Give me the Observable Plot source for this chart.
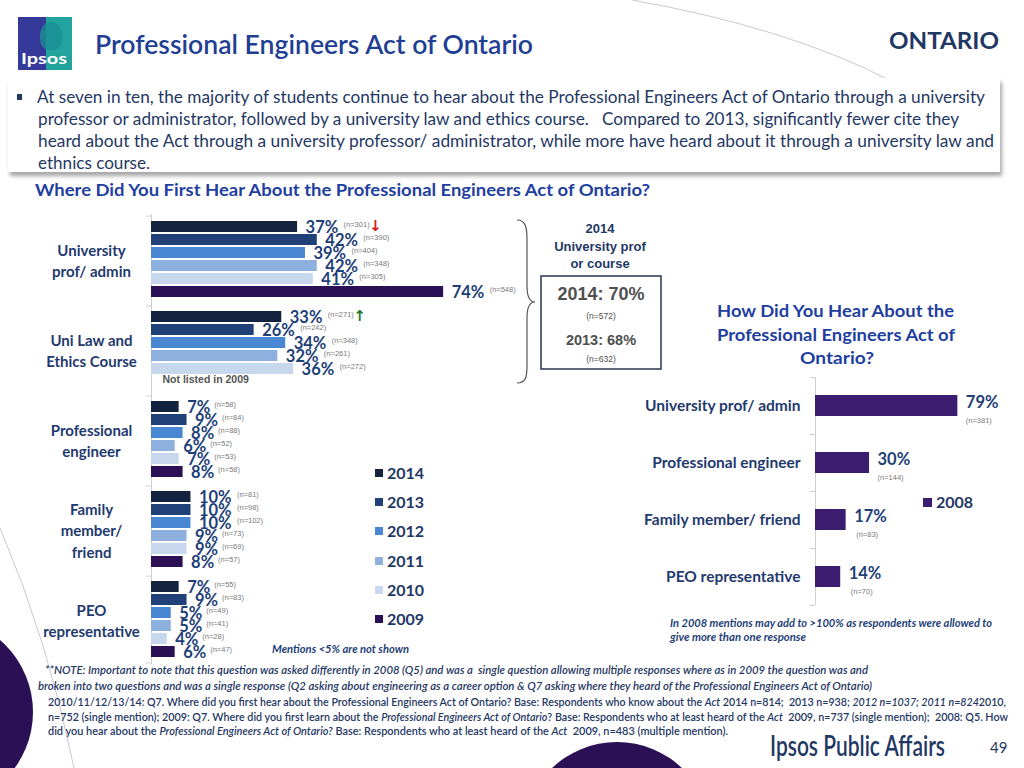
<!DOCTYPE html>
<html><head><meta charset="utf-8">
<script src="https://cdn.jsdelivr.net/npm/d3@7"></script>
<script src="https://cdn.jsdelivr.net/npm/@observablehq/plot@0.6"></script>
<style>
body{margin:0;background:#fff;}
#slide{position:relative;width:1024px;height:768px;overflow:hidden;background:#fff;font-family:Lato,"Open Sans",sans-serif;}
.t{position:absolute;white-space:nowrap;transform-origin:0 50%;}
.abs{position:absolute;}
</style></head><body><div id="slide"></div>
<script>
// ---------- DATA ----------
const groups = ["University prof/ admin", "Uni Law and Ethics Course", "Professional engineer", "Family member/ friend", "PEO representative"];
const groupLabels = ["University\nprof/ admin", "Uni Law and\nEthics Course", "Professional\nengineer", "Family\nmember/\nfriend", "PEO\nrepresentative"];
const years = ["2014", "2013", "2012", "2011", "2010", "2009"];
const yearColors = ["#13233f", "#1f4178", "#4a87d3", "#8eb0df", "#c7d7ee", "#2b1055"];
const pct2014 = [37, 33, 7, 10, 7];
const pct2013 = [42, 26, 9, 10, 9];
const pct2012 = [39, 34, 8, 10, 5];
const pct2011 = [42, 32, 6, 9, 5];
const pct2010 = [41, 36, 7, 9, 4];
const pct2009 = [74, null, 8, 8, 6];
const n2014 = [301, 271, 58, 81, 55];
const n2013 = [390, 242, 84, 98, 83];
const n2012 = [404, 348, 88, 102, 49];
const n2011 = [348, 261, 52, 73, 41];
const n2010 = [305, 272, 53, 69, 28];
const n2009 = [548, null, 58, 57, 47];
const change2014 = ["down", "up", "", "", ""];

const sources2008 = ["University prof/ admin", "Professional engineer", "Family member/ friend", "PEO representative"];
const pct2008 = [79, 30, 17, 14];
const n2008 = [381, 144, 83, 70];
const color2008 = "#3b1c6e";

// ---------- BUILD ----------
const pctByYear = [pct2014, pct2013, pct2012, pct2011, pct2010, pct2009];
const nByYear = [n2014, n2013, n2012, n2011, n2010, n2009];
const rows = [];
years.forEach((yr, i) => groups.forEach((g, j) => {
  const v = pctByYear[i][j];
  if (v != null) rows.push({group: g, year: yr, value: v, n: nByYear[i][j], change: i === 0 ? change2014[j] : ""});
}));
const rows2008 = sources2008.map((s, i) => ({source: s, value: pct2008[i], n: n2008[i]}));

const slide = document.getElementById("slide");
const navy = "#1f3864";
const labelBlue = "#1f3f78";

function T(html, x, y, o = {}) {
  const d = document.createElement("div");
  d.className = "t";
  d.innerHTML = html;
  const fs = o.size || 12;
  d.style.fontSize = fs + "px";
  d.style.lineHeight = (fs * 1.25) + "px";
  d.style.top = (y - fs * 0.625) + "px";
  d.style.color = o.color || navy;
  d.style.fontWeight = o.weight || 400;
  if (o.italic) d.style.fontStyle = "italic";
  if (o.family) d.style.fontFamily = o.family;
  slide.appendChild(d);
  const w = d.getBoundingClientRect().width;
  let sx = 1;
  if (o.w) sx = o.w / w;
  if (o.cx != null) d.style.left = (o.cx - (w * sx) / 2) + "px";
  else d.style.left = x + "px";
  if (sx !== 1) d.style.transform = `scaleX(${sx})`;
  return d;
}

// decorations
slide.insertAdjacentHTML("beforeend", `
<svg class="abs" width="1024" height="768" style="left:0;top:0">
  <path d="M632,0 Q790,28 893,82" stroke="#c9c9d6" stroke-width="1" fill="none"/>
  <path d="M0,528 Q48,640 74,768" stroke="#c9c9d6" stroke-width="1" fill="none"/>
  <circle cx="-62" cy="712" r="95" fill="#2b1055"/>
  <circle cx="617" cy="836" r="94" fill="#2b1055"/>
  <path d="M517,220 C526,220 527,228 527,240 L527,286 C527,297 530,302 535,302 C530,302 527,307 527,318 L527,365 C527,377 526,383 517,383" stroke="#555" stroke-width="1.2" fill="none"/>
  <rect x="541" y="276" width="120" height="93" fill="#fff" stroke="#2a3550" stroke-width="1.5"/>
</svg>
<div class="abs" style="left:8px;top:78px;width:992px;height:94px;background:#fff;box-shadow:2px 4px 4px rgba(0,0,0,0.35);"></div>
<div class="abs" style="left:17px;top:94px;width:5px;height:6px;background:${navy}"></div>
<div class="abs" style="left:18px;top:17px;width:54px;height:53px;background:linear-gradient(90deg,#34399a 0 52%,#22a39d 52% 100%);"></div>
<div class="abs" style="left:40px;top:22px;width:22px;height:28px;border-radius:50% 50% 40% 40%;background:#1b8f95;opacity:.8"></div>
`);
T("Ipsos", 21, 58, {size: 15, weight: 700, color: "#fff", w: 46});

// header texts
T("Professional Engineers Act of Ontario", 95, 44, {size: 26, weight: 600, color: "#1f3f94", w: 438});
T("ONTARIO", 889, 41, {size: 22, weight: 700, color: navy, w: 110});
T("At seven in ten, the majority of students continue to hear about the Professional Engineers Act of Ontario through a university", 37, 97, {size: 17, w: 948});
T("professor or administrator, followed by a university law and ethics course.&nbsp;&nbsp; Compared to 2013, significantly fewer cite they", 38, 119, {size: 17, w: 921});
T("heard about the Act through a university professor/ administrator, while more have heard about it through a university law and", 38, 141, {size: 17, w: 956});
T("ethnics course.", 38, 163, {size: 17, w: 112});
T("Where Did You First Hear About the Professional Engineers Act of Ontario?", 35, 190, {size: 17.5, weight: 700, color: "#1f3fa0", w: 615});

// box / bracket texts
const arial = "'Liberation Sans', Arial, sans-serif";
T("2014", 0, 229, {size: 13, weight: 700, color: navy, family: arial, cx: 600});
T("University prof", 0, 247, {size: 13, weight: 700, color: navy, family: arial, cx: 600});
T("or course", 0, 264, {size: 13, weight: 700, color: navy, family: arial, cx: 600});
T("2014: 70%", 0, 294, {size: 18, weight: 700, color: "#505050", family: arial, cx: 601});
T("(n=572)", 0, 316, {size: 8.5, color: "#505050", family: arial, cx: 601});
T("2013: 68%", 0, 340, {size: 14.5, weight: 700, color: "#505050", family: arial, cx: 601});
T("(n=632)", 0, 359, {size: 8.5, color: "#505050", family: arial, cx: 601});

// right title
T("How Did You Hear About the", 717, 311, {size: 17.5, weight: 700, color: "#1f3fa0", w: 237});
T("Professional Engineers Act of", 717, 335, {size: 17.5, weight: 700, color: "#1f3fa0", w: 238});
T("Ontario?", 800, 358, {size: 17.5, weight: 700, color: "#1f3fa0", w: 74});

// legends
years.forEach((yr, i) => {
  const y = 473 + i * 29.2;
  slide.insertAdjacentHTML("beforeend", `<div class="abs" style="left:375px;top:${y - 4}px;width:8px;height:8px;background:${yearColors[i]}"></div>`);
  T(yr, 387, y, {size: 16, weight: 700, color: navy});
});
slide.insertAdjacentHTML("beforeend", `<div class="abs" style="left:923px;top:498px;width:9px;height:9px;background:${color2008}"></div>`);
T("2008", 936, 502, {size: 16, weight: 700, color: navy});

// notes
T("Mentions &lt;5% are not shown", 272, 650, {size: 10.5, weight: 700, italic: true, color: labelBlue, w: 137});
T("In 2008 mentions may add to &gt;100% as respondents were allowed to", 670, 624, {size: 10.5, weight: 700, italic: true, color: labelBlue, w: 322});
T("give more than one response", 670, 638, {size: 10.5, weight: 700, italic: true, color: labelBlue, w: 136});
T("**NOTE: Important to note that this question was asked differently in 2008 (Q5) and was a&nbsp; single question allowing multiple responses where as in 2009 the question was and", 45, 670, {size: 11, weight: 600, italic: true, color: navy, w: 823});
T("broken into two questions and was a single response (Q2 asking about engineering as a career option &amp; Q7 asking where they heard of the Professional Engineers Act of Ontario)", 38, 686, {size: 11, weight: 600, italic: true, color: navy, w: 834});
T("2010/11/12/13/14: Q7. Where did you first hear about the Professional Engineers Act of Ontario? Base: Respondents who know about the <i>Act</i> 2014 n=814;&nbsp; 2013 n=938; <i>2012 n=1037; 2011 n=824</i>2010,", 48, 702, {size: 11, weight: 600, color: navy, w: 958});
T("n=752 (single mention); 2009: Q7. Where did you first learn about the <i>Professional Engineers Act of Ontario</i>? Base: Respondents who at least heard of the <i>Act</i>&nbsp; 2009, n=737 (single mention);&nbsp; 2008: Q5. How", 48, 717, {size: 11, weight: 600, color: navy, w: 960});
T("did you hear about the <i>Professional Engineers Act of Ontario?</i> Base: Respondents who at least heard of the <i>Act</i>&nbsp; 2009, n=483 (multiple mention).", 48, 731, {size: 11, weight: 600, color: navy, w: 680});
T("Ipsos Public Affairs", 770, 745, {size: 29, weight: 600, color: navy, w: 175});
T("49", 990, 747, {size: 15, color: navy});

// ---------- LEFT CHART ----------
const left = Plot.plot({
  width: 560, height: 463,
  marginLeft: 151, marginRight: 0, marginTop: 7, marginBottom: 2,
  style: {fontFamily: "Lato, sans-serif", background: "transparent", overflow: "visible"},
  x: {domain: [0, 103.6], axis: null},
  y: {domain: years, axis: null, paddingInner: 0.145, paddingOuter: 0.36},
  fy: {domain: groups, padding: 0, label: null},
  color: {domain: years, range: yearColors},
  marks: [
    Plot.ruleX([0], {stroke: "#cfcfcf"}),
    Plot.ruleY(groups, {fy: d => d, y: () => "2014", x1: -1.3, x2: 0, dy: -10.9, stroke: "#cfcfcf"}),
    Plot.ruleY([groups[4]], {fy: d => d, y: () => "2009", x1: -1.3, x2: 0, dy: 10.9, stroke: "#cfcfcf"}),
    Plot.barX(rows, {x: "value", y: "year", fy: "group", fill: "year"}),
    Plot.text(rows, {x: "value", y: "year", fy: "group", text: d => d.value + "%", dx: 8, dy: 1, textAnchor: "start", fontSize: 16.5, fontWeight: 700, fill: labelBlue}),
    Plot.text(rows.filter(d => d.value < 10), {x: "value", y: "year", fy: "group", text: d => `(n=${d.n})`, dx: 35, dy: -2, textAnchor: "start", fontSize: 7.5, fill: "#7a7a7a", fontFamily: arial}),
    Plot.text(rows.filter(d => d.value >= 10), {x: "value", y: "year", fy: "group", text: d => `(n=${d.n})`, dx: 46, dy: -2, textAnchor: "start", fontSize: 7.5, fill: "#7a7a7a", fontFamily: arial}),
    Plot.text(rows.filter(d => d.change === "down"), {x: "value", y: "year", fy: "group", text: () => "↓", dx: 78, dy: -1, fontSize: 15, fontWeight: 700, fill: "#cc1f1f", fontFamily: "DejaVu Sans"}),
    Plot.text(rows.filter(d => d.change === "up"), {x: "value", y: "year", fy: "group", text: () => "↑", dx: 78, dy: -1, fontSize: 15, fontWeight: 700, fill: "#1e7a2a", fontFamily: "DejaVu Sans"}),
    Plot.text([groups[1]], {fy: d => d, y: () => "2009", x: 0, dx: 11, dy: -2, textAnchor: "start", text: () => "Not listed in 2009", fill: "#555", fontWeight: 700, fontSize: 10.5, fontFamily: arial}),
    Plot.axisFy({anchor: "left", tickSize: 0, tickPadding: 60, textAnchor: "middle", tickFormat: g => groupLabels[groups.indexOf(g)], fontSize: 15, fontWeight: 700, color: "#1f3a6e", lineHeight: 1.45, label: null})
  ]
});
left.style.position = "absolute";
left.style.left = "0px";
left.style.top = "205px";
slide.appendChild(left);

// ---------- RIGHT CHART ----------
const right = Plot.plot({
  width: 444, height: 240,
  marginLeft: 235, marginRight: 0, marginTop: 7, marginBottom: 5,
  style: {fontFamily: "Lato, sans-serif", background: "transparent", overflow: "visible"},
  x: {domain: [0, 116], axis: null},
  y: {domain: sources2008, paddingInner: 0.63, paddingOuter: 0.315, axis: null},
  marks: [
    Plot.ruleX([0], {stroke: "#cfcfcf"}),
    Plot.ruleY(sources2008, {y: d => d, x1: -2.8, x2: 0, dy: -28.5, stroke: "#cfcfcf"}),
    Plot.ruleY([sources2008[3]], {y: d => d, x1: -2.8, x2: 0, dy: 28.5, stroke: "#cfcfcf"}),
    Plot.barX(rows2008, {x: "value", y: "source", fill: color2008}),
    Plot.text(rows2008, {x: "value", y: "source", text: d => d.value + "%", dx: 8, dy: -3, textAnchor: "start", fontSize: 16.5, fontWeight: 700, fill: labelBlue}),
    Plot.text(rows2008, {x: "value", y: "source", text: d => `(n=${d.n})`, dx: 21, dy: 15, textAnchor: "middle", fontSize: 7.5, fill: "#7a7a7a", fontFamily: arial}),
    Plot.axisY({anchor: "left", tickSize: 0, tickPadding: 15, fontSize: 15.5, fontWeight: 700, color: "#1f3a6e", label: null})
  ]
});
right.style.position = "absolute";
right.style.left = "580px";
right.style.top = "370px";
slide.appendChild(right);
</script></body></html>
